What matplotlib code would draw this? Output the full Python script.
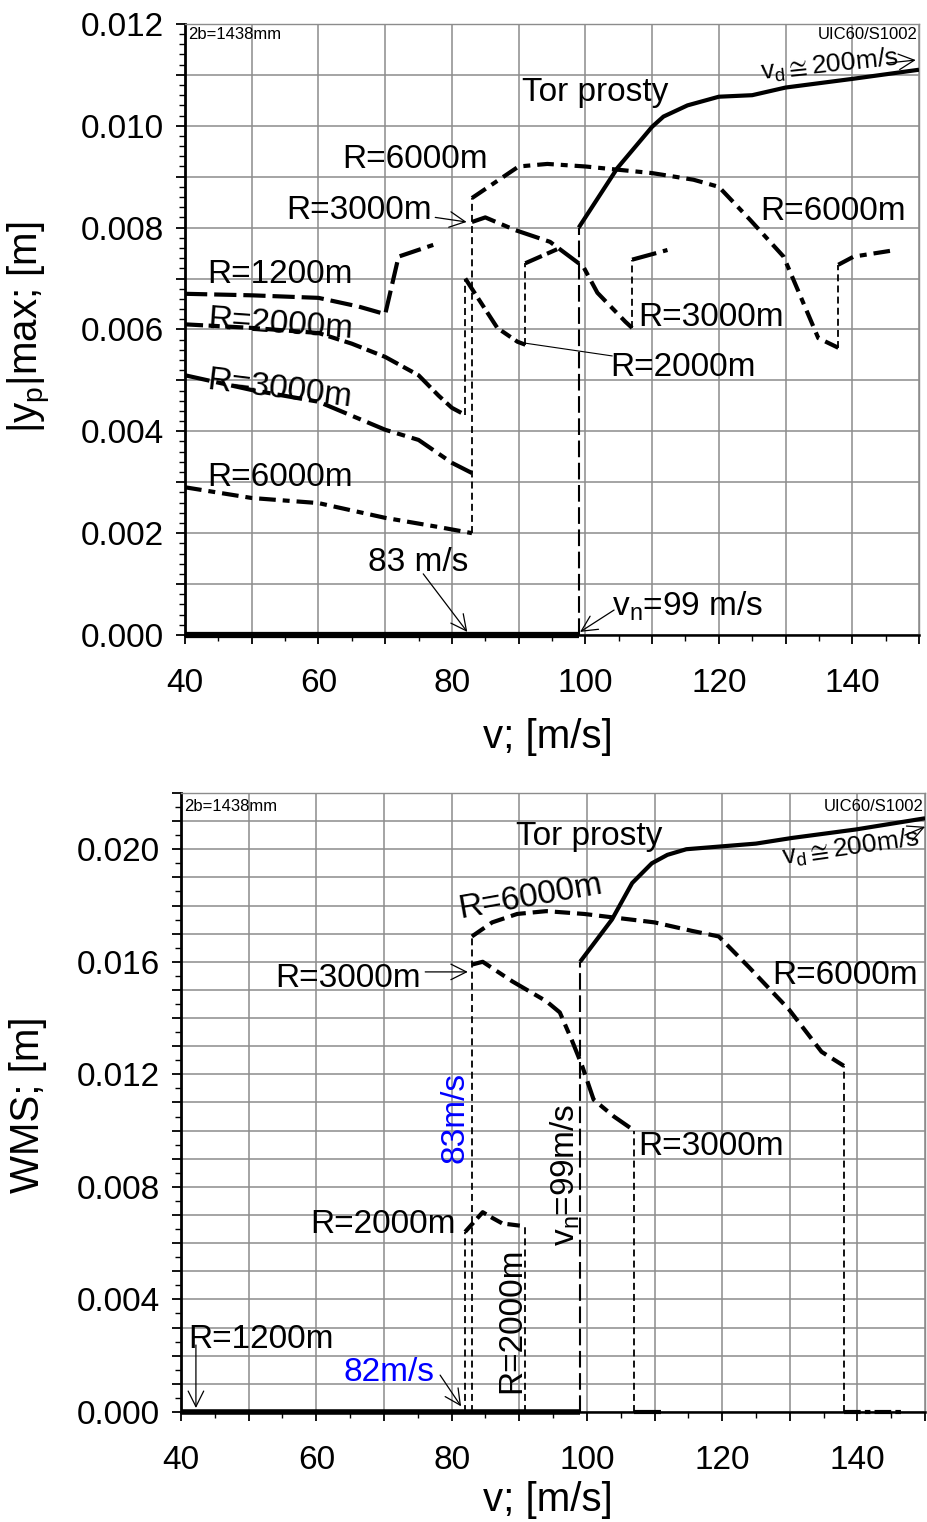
import matplotlib
import matplotlib.pyplot as plt
from matplotlib.ticker import FuncFormatter, MultipleLocator

matplotlib.use("Agg")

plt.rcParams["font.family"] = ["Liberation Sans", "DejaVu Sans"]
plt.rcParams["mathtext.fontset"] = "custom"
plt.rcParams["mathtext.rm"] = "Liberation Sans"
plt.rcParams["mathtext.it"] = "Liberation Sans"
plt.rcParams["mathtext.fallback"] = "stixsans"
plt.rcParams["lines.scale_dashes"] = False

# ---- top chart: |y_p|max ----
top_zero_v = [40, 99]
top_zero_y = [0.0, 0.0]

top_tor_v = [99, 104.8, 110, 111.7, 115.3, 120, 125, 130, 140, 150]
top_tor_y = [0.0080, 0.00917, 0.00998, 0.01018, 0.0104, 0.01057, 0.0106, 0.01075, 0.01092, 0.0111]

top_r1200_v = [40, 50, 60, 66, 70, 72, 77.2]
top_r1200_y = [0.0067, 0.00667, 0.00662, 0.00645, 0.0063, 0.00743, 0.00766]

top_r2000a_v = [40, 50, 60, 65, 70, 75, 78, 80, 82]
top_r2000a_y = [0.0061, 0.00603, 0.00593, 0.00572, 0.00546, 0.0051, 0.0047, 0.00446, 0.00432]
top_r2000b_v = [82, 86.8, 89.8, 91]
top_r2000b_y = [0.0070, 0.00603, 0.00576, 0.0057]
top_r2000c_v = [91, 96.2]
top_r2000c_y = [0.0073, 0.0076]

top_r3000a_v = [40, 50, 60, 70, 75, 80, 83]
top_r3000a_y = [0.0051, 0.00481, 0.00458, 0.00403, 0.00383, 0.00338, 0.00318]
top_r3000b_v = [83, 85, 89.5, 94.7, 99.7, 101.8, 106, 107]
top_r3000b_y = [0.00811, 0.0082, 0.00795, 0.00772, 0.00723, 0.00672, 0.00615, 0.00603]
top_r3000c_v = [107, 112.3]
top_r3000c_y = [0.00737, 0.00756]

top_r6000a_v = [40, 50, 60, 70, 78, 83]
top_r6000a_y = [0.0029, 0.00269, 0.00259, 0.0023, 0.00212, 0.0020]
top_r6000b_v = [83, 90, 94.3, 100, 110, 116.2, 120, 124.7, 129.7, 131.2, 134.9, 137.9]
top_r6000b_y = [0.00858, 0.0092, 0.00925, 0.0092, 0.00907, 0.00894, 0.0088, 0.00815, 0.00743,
                0.00697, 0.00583, 0.00564]
top_r6000c_v = [137.9, 140.2, 146.5]
top_r6000c_y = [0.00727, 0.00743, 0.00756]

# ---- bottom chart: WMS ----
bot_zero_v = [40, 99]
bot_zero_y = [0.0, 0.0]
bot_zero3000_v = [107, 111]
bot_zero3000_y = [0.0, 0.0]
bot_zero6000_v = [138, 146.5]
bot_zero6000_y = [0.0, 0.0]

bot_tor_v = [99, 103.7, 106.7, 109.6, 111.9, 114.7, 125, 130.3, 139.7, 150]
bot_tor_y = [0.0160, 0.0175, 0.0188, 0.0195, 0.0198, 0.0200, 0.0202, 0.0204, 0.0207, 0.0211]

bot_r6000_v = [83, 86, 89.7, 94, 99.6, 110, 115.5, 119.5, 124, 129.9, 134.7, 138]
bot_r6000_y = [0.0169, 0.0174, 0.0177, 0.0178, 0.0177, 0.0174, 0.0171, 0.0169, 0.0158, 0.0143,
               0.0128, 0.0123]

bot_r3000_v = [83, 84.6, 89, 94, 96, 97.8, 99.3, 101, 104, 107]
bot_r3000_y = [0.0159, 0.0160, 0.0153, 0.0146, 0.0142, 0.0132, 0.0123, 0.0111, 0.0105, 0.0100]

bot_r2000_v = [82, 84.6, 86, 87.5, 90.8]
bot_r2000_y = [0.0064, 0.0071, 0.0069, 0.0067, 0.0066]

THICK = 3.0
GRID = "#8c8c8c"
BIG = 24
SMALL = 12


def _setup(ax, ymax, label_every, yminor):
    ax.set_xlim(40, 150)
    ax.set_ylim(0, ymax)
    ax.xaxis.set_major_locator(MultipleLocator(10))
    ax.xaxis.set_minor_locator(MultipleLocator(5))
    ax.yaxis.set_major_locator(MultipleLocator(0.001))
    ax.yaxis.set_minor_locator(MultipleLocator(yminor))
    ax.xaxis.set_major_formatter(
        FuncFormatter(lambda x, pos: "%d" % round(x) if round(x) % 20 == 0 else ""))
    ax.yaxis.set_major_formatter(
        FuncFormatter(lambda y, pos: "%.3f" % abs(y) if round(y / 0.001) % label_every == 0 else ""))
    ax.tick_params(which="both", direction="out", top=False, right=False, colors="black")
    ax.tick_params(which="major", length=6.5, width=1.3, labelsize=24)
    ax.tick_params(which="minor", length=4, width=1.0)
    ax.tick_params(axis="x", which="major", pad=17)
    ax.tick_params(axis="y", which="major", pad=9)
    ax.grid(True, which="major", color=GRID, lw=1.1)
    ax.set_axisbelow(True)
    for side in ("top", "right"):
        ax.spines[side].set_color(GRID)
        ax.spines[side].set_linewidth(1.0)
    ax.spines["left"].set_linewidth(2.0)
    ax.spines["bottom"].set_linewidth(1.8)
    ax.text(0.004, 0.982 if ymax < 0.02 else 0.978, "2b=1438mm", transform=ax.transAxes,
            fontsize=SMALL, ha="left", va="center")
    ax.text(0.998, 0.982 if ymax < 0.02 else 0.978, "UIC60/S1002", transform=ax.transAxes,
            fontsize=SMALL, ha="right", va="center")


def _link(ax, v0, y0, v1, y1, dashes=(5, 3), lw=1.3):
    ax.plot([v0, v1], [y0, y1], color="black", lw=lw, dashes=dashes, zorder=3)


def _curve(ax, v, y, dashes=None, lw=THICK, clip=True):
    if dashes is None:
        ax.plot(v, y, color="black", lw=lw, solid_capstyle="butt", zorder=4, clip_on=clip)
    else:
        ax.plot(v, y, color="black", lw=lw, dashes=dashes, zorder=4, clip_on=clip)


def _arrow(ax, start, end, lw=0.9):
    ax.annotate("", xy=end, xytext=start,
                arrowprops=dict(arrowstyle="->", color="black", lw=lw,
                                mutation_scale=28, shrinkA=0, shrinkB=0))


def draw_top(fig):
    ax = fig.add_axes([0.1996, 0.5828, 0.7918, 0.4015])
    _setup(ax, 0.012, 2, 0.0002)

    _curve(ax, top_zero_v, top_zero_y, lw=4.5, clip=False)
    _curve(ax, top_tor_v, top_tor_y)
    _curve(ax, top_r1200_v, top_r1200_y, dashes=(16, 5))
    _curve(ax, top_r2000a_v, top_r2000a_y, dashes=(13, 4, 8, 4))
    _curve(ax, top_r2000b_v, top_r2000b_y, dashes=(13, 4, 8, 4))
    _curve(ax, top_r2000c_v, top_r2000c_y, dashes=(13, 4, 8, 4))
    _curve(ax, top_r3000a_v, top_r3000a_y, dashes=(18, 5, 6, 5))
    _curve(ax, top_r3000b_v, top_r3000b_y, dashes=(18, 5, 6, 5))
    _curve(ax, top_r3000c_v, top_r3000c_y, dashes=(18, 5, 6, 5))
    _curve(ax, top_r6000a_v, top_r6000a_y, dashes=(12, 5, 5, 5))
    _curve(ax, top_r6000b_v, top_r6000b_y, dashes=(12, 5, 5, 5))
    _curve(ax, top_r6000c_v, top_r6000c_y, dashes=(12, 5, 5, 5))

    _link(ax, top_r2000a_v[-1], top_r2000a_y[-1], top_r2000b_v[0], top_r2000b_y[0])
    _link(ax, top_r6000a_v[-1], top_r6000a_y[-1], top_r6000b_v[0], top_r6000b_y[0])
    _link(ax, top_r2000b_v[-1], top_r2000b_y[-1], top_r2000c_v[0], top_r2000c_y[0])
    _link(ax, top_r3000b_v[-1], top_r3000b_y[-1], top_r3000c_v[0], top_r3000c_y[0])
    _link(ax, top_r6000b_v[-1], top_r6000b_y[-1], top_r6000c_v[0], top_r6000c_y[0])
    _link(ax, top_zero_v[-1], top_zero_y[-1], top_tor_v[0], top_tor_y[0], dashes=(12, 4), lw=1.5)

    ax.text(90.5, 0.01066, "Tor prosty", fontsize=BIG, ha="left", va="center")
    ax.text(63.5, 0.00933, "R=6000m", fontsize=BIG, ha="left", va="center")
    ax.text(55.1, 0.00833, "R=3000m", fontsize=BIG, ha="left", va="center")
    _arrow(ax, (77.5, 0.0082), (82.2, 0.00811))
    ax.text(43.4, 0.00707, "R=1200m", fontsize=BIG, ha="left", va="center")
    ax.text(43.4, 0.00619, "R=2000m", fontsize=BIG, ha="left", va="center",
            rotation=-4, rotation_mode="anchor")
    ax.text(43.4, 0.00500, "R=3000m", fontsize=BIG, ha="left", va="center",
            rotation=-7, rotation_mode="anchor")
    ax.text(43.4, 0.0031, "R=6000m", fontsize=BIG, ha="left", va="center")
    ax.text(126.2, 0.00831, "R=6000m", fontsize=BIG, ha="left", va="center")
    ax.text(107.9, 0.00624, "R=3000m", fontsize=BIG, ha="left", va="center")
    ax.text(103.7, 0.00526, "R=2000m", fontsize=BIG, ha="left", va="center")
    ax.plot([91, 104.0], [0.00573, 0.00548], color="black", lw=0.8)
    ax.text(67.4, 0.00143, "83 m/s", fontsize=BIG, ha="left", va="center")
    _arrow(ax, (75.7, 0.0012), (82.3, 0.00006))
    ax.text(104, 0.00057, r"$\mathregular{v_n}$=99 m/s", fontsize=BIG, ha="left", va="center")
    _arrow(ax, (104.3, 0.00049), (99.2, 0.00006))
    ax.text(126.2, 0.01104, r"$\mathregular{v_d}\cong$200m/s", fontsize=19, ha="left",
            va="center", rotation=6, rotation_mode="anchor")
    _arrow(ax, (145.2, 0.01123), (149.5, 0.01129))


def draw_bottom(fig):
    ax = fig.add_axes([0.1953, 0.0723, 0.8026, 0.4067])
    _setup(ax, 0.022, 4, 0.0005)

    _curve(ax, bot_zero_v, bot_zero_y, lw=4.0, clip=False)
    _curve(ax, bot_zero3000_v, bot_zero3000_y, lw=THICK, clip=False)
    _curve(ax, bot_zero6000_v, bot_zero6000_y, dashes=(12, 3, 4, 3), clip=False)
    _curve(ax, bot_tor_v, bot_tor_y)
    _curve(ax, bot_r6000_v, bot_r6000_y, dashes=(11, 5))
    _curve(ax, bot_r3000_v, bot_r3000_y, dashes=(15, 5, 7, 5))
    _curve(ax, bot_r2000_v, bot_r2000_y, dashes=(9, 4))

    _link(ax, bot_r2000_v[0], 0.0, bot_r2000_v[0], bot_r2000_y[0])
    _link(ax, bot_r6000_v[0], 0.0, bot_r6000_v[0], bot_r6000_y[0])
    _link(ax, bot_r2000_v[-1], 0.0, bot_r2000_v[-1], bot_r2000_y[-1])
    _link(ax, bot_r3000_v[-1], 0.0, bot_r3000_v[-1], bot_r3000_y[-1])
    _link(ax, bot_r6000_v[-1], 0.0, bot_r6000_v[-1], bot_r6000_y[-1])
    _link(ax, bot_zero_v[-1], 0.0, bot_tor_v[0], bot_tor_y[0], dashes=(12, 4), lw=1.5)

    ax.text(89.5, 0.02047, "Tor prosty", fontsize=BIG, ha="left", va="center")
    ax.text(91.6, 0.0183, "R=6000m", fontsize=BIG, ha="center", va="center", rotation=10)
    ax.text(53.9, 0.01542, "R=3000m", fontsize=BIG, ha="left", va="center")
    _arrow(ax, (76.1, 0.01564), (82.4, 0.01564))
    ax.text(127.4, 0.01553, "R=6000m", fontsize=BIG, ha="left", va="center")
    ax.text(107.6, 0.00942, "R=3000m", fontsize=BIG, ha="left", va="center")
    ax.text(80.5, 0.01045, "83m/s", fontsize=BIG, ha="center", va="center", rotation=90,
            color="#0000ff")
    ax.text(96.8, 0.00842, r"$\mathregular{v_n}$=99m/s", fontsize=BIG, ha="center",
            va="center", rotation=90)
    ax.text(59.1, 0.00665, "R=2000m", fontsize=BIG, ha="left", va="center")
    ax.text(88.9, 0.00327, "R=2000m", fontsize=BIG, ha="center", va="center", rotation=90)
    ax.text(41.0, 0.00256, "R=1200m", fontsize=BIG, ha="left", va="center")
    _arrow(ax, (42.2, 0.00238), (42.2, 0.00014))
    ax.text(64.0, 0.00142, "82m/s", fontsize=BIG, ha="left", va="center", color="#0000ff")
    _arrow(ax, (78.3, 0.00131), (81.4, 0.0002))
    ax.text(128.8, 0.0197, r"$\mathregular{v_d}\cong$200m/s", fontsize=19, ha="left",
            va="center", rotation=8, rotation_mode="anchor")
    _arrow(ax, (147.0, 0.0205), (150.0, 0.0208))


def main():
    fig = plt.figure(figsize=(9.27, 15.22), dpi=100)
    draw_top(fig)
    draw_bottom(fig)
    fig.text(30 / 927, 1 - 327 / 1522, r"|$\mathregular{y_p}$|max; [m]", fontsize=29,
             rotation=90, ha="center", va="center")
    fig.text(548 / 927, 1 - 737 / 1522, "v; [m/s]", fontsize=29, ha="center", va="center")
    fig.text(28 / 927, 1 - 1105 / 1522, "WMS; [m]", fontsize=29, rotation=90,
             ha="center", va="center")
    fig.text(548 / 927, 1 - 1500 / 1522, "v; [m/s]", fontsize=29, ha="center", va="center")
    fig.savefig("out.png", dpi=100)
    plt.close(fig)


if __name__ == "__main__":
    main()
